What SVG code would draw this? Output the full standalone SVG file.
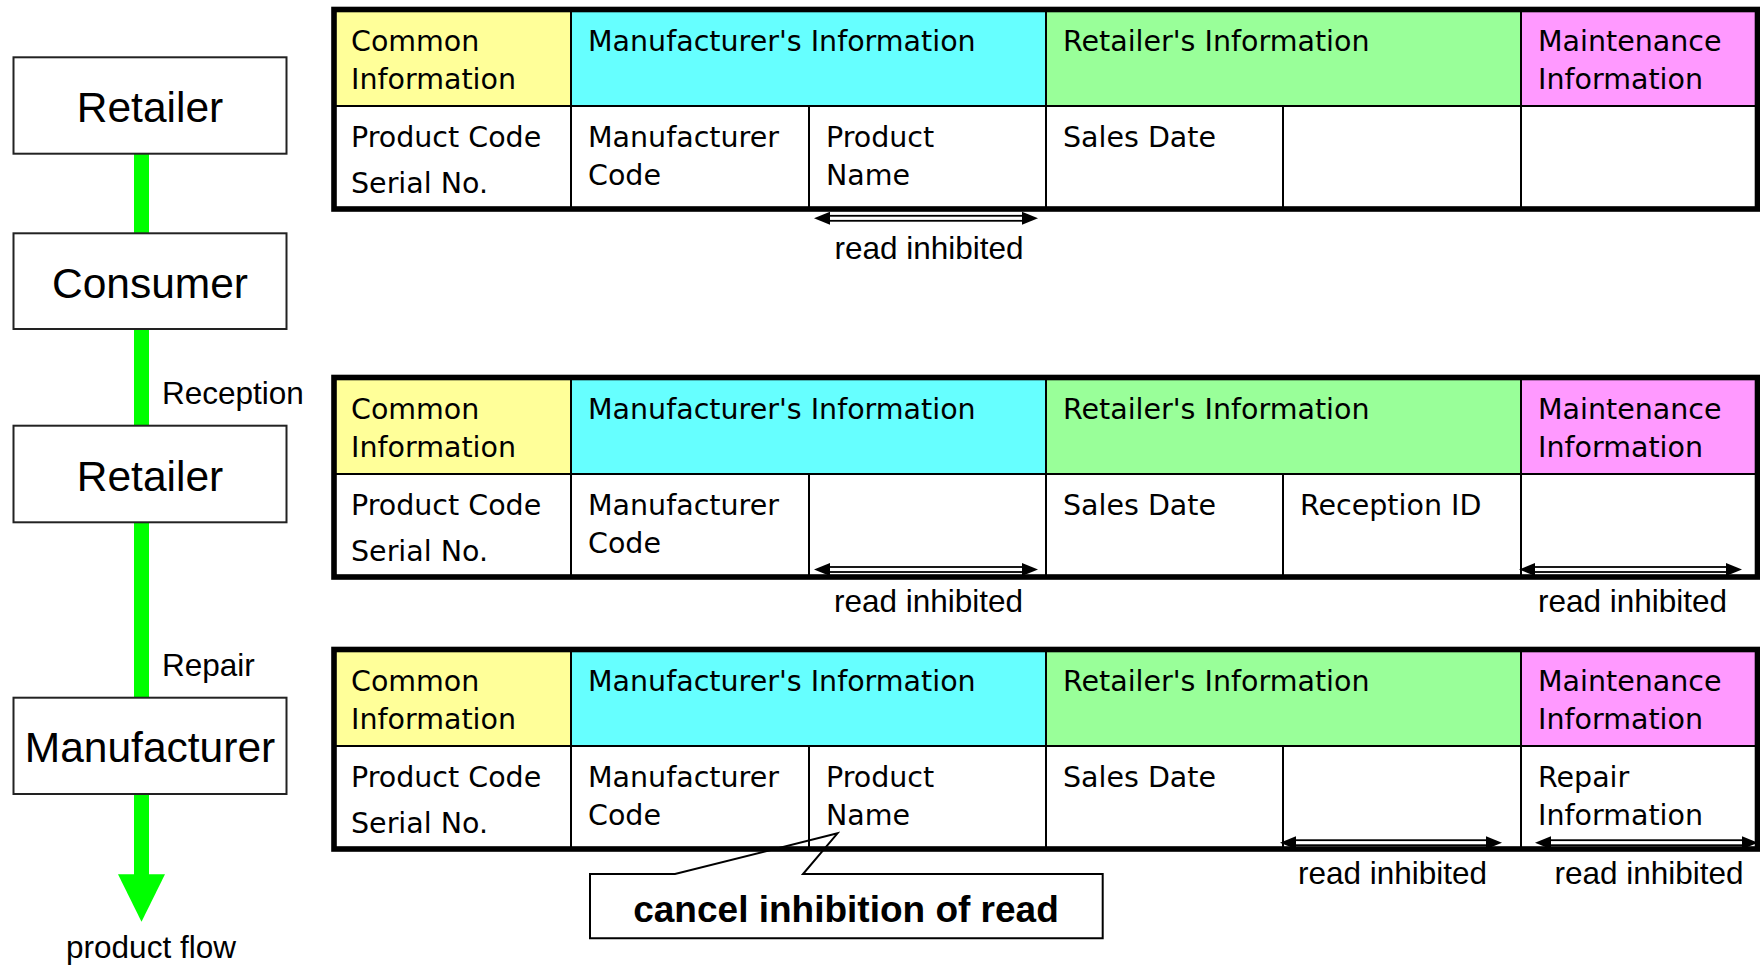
<svg xmlns="http://www.w3.org/2000/svg" width="1760" height="966" viewBox="0 0 1760 966">
<style>
.node rect{fill:#fff;stroke:#222;stroke-width:2}
.nt{font-family:"Liberation Sans",Arial,sans-serif;font-size:42.5px;text-anchor:middle;fill:#000}
.lbl{font-family:"Liberation Sans",Arial,sans-serif;font-size:31.5px;fill:#000}
.mid{text-anchor:middle}
.tt{font-family:"DejaVu Sans",Verdana,sans-serif;font-size:28.5px;fill:#000}
.thin{stroke:#000;stroke-width:2;fill:none}
.border{stroke:#000;stroke-width:5.6;fill:none}
.y{fill:#FFFF99}.c{fill:#66FFFF}.g{fill:#99FF99}.p{fill:#FF99FF}.w{fill:#fff}
.shaft{fill:#fff;stroke:#000;stroke-width:1.8}
.head{fill:#000}
.flow{stroke:#00FF00;stroke-width:15;fill:none}
.callout{fill:none;stroke:#000;stroke-width:2}
.ct{font-family:"Liberation Sans",Arial,sans-serif;font-size:37px;font-weight:bold;text-anchor:middle;fill:#000}
</style>

<g id="connectors">
<line class="flow" x1="141.5" y1="153.7" x2="141.5" y2="233.3"/>
<line class="flow" x1="141.5" y1="329" x2="141.5" y2="425.7"/>
<line class="flow" x1="141.5" y1="522.3" x2="141.5" y2="697.7"/>
<line class="flow" x1="141.5" y1="794" x2="141.5" y2="876"/>
<polygon points="118,874.3 165,874.3 141.5,921.7" fill="#00FF00"/>
<text class="lbl" x="162" y="403.5">Reception</text>
<text class="lbl" x="162" y="675.5">Repair</text>
<text class="lbl mid" x="151" y="957.5">product flow</text>
</g>

<g id="node-retailer-1" class="node">
<rect x="13.5" y="57.3" width="273" height="96.4"/>
<text class="nt" x="150" y="122.3">Retailer</text>
</g>
<g id="node-consumer" class="node">
<rect x="13.5" y="233.3" width="273" height="95.7"/>
<text class="nt" x="150" y="298.3">Consumer</text>
</g>
<g id="node-retailer-2" class="node">
<rect x="13.5" y="425.7" width="273" height="96.6"/>
<text class="nt" x="150" y="490.5">Retailer</text>
</g>
<g id="node-manufacturer" class="node">
<rect x="13.5" y="697.7" width="273" height="96.3"/>
<text class="nt" x="150" y="762">Manufacturer</text>
</g>

<g id="table-1">
<rect class="y" x="334" y="9.5" width="237" height="96.5"/>
<rect class="c" x="571" y="9.5" width="475" height="96.5"/>
<rect class="g" x="1046" y="9.5" width="475" height="96.5"/>
<rect class="p" x="1521" y="9.5" width="236.5" height="96.5"/>
<rect class="w" x="334" y="106" width="1423.5" height="103"/>
<path class="thin" d="M334,106H1757.5M571,9.5V209M1046,9.5V209M1521,9.5V209M809,106V209M1283,106V209"/>
<rect class="border" x="334" y="9.5" width="1423.5" height="199.5"/>
<text class="tt" x="351" y="50.7">Common</text>
<text class="tt" x="351" y="88.8">Information</text>
<text class="tt" x="588" y="50.7">Manufacturer's Information</text>
<text class="tt" x="1063" y="50.7">Retailer's Information</text>
<text class="tt" x="1538" y="50.7">Maintenance</text>
<text class="tt" x="1538" y="88.8">Information</text>
<text class="tt" x="351" y="146.7">Product Code</text>
<text class="tt" x="351" y="192.7">Serial No.</text>
<text class="tt" x="588" y="146.7">Manufacturer</text>
<text class="tt" x="588" y="184.5">Code</text>
<text class="tt" x="826" y="146.7">Product</text>
<text class="tt" x="826" y="184.5">Name</text>
<text class="tt" x="1063" y="146.7">Sales Date</text>
<rect class="shaft" x="826" y="215.8" width="200" height="5"/>
<polygon class="head" points="814,218.3 830,211.8 830,224.8"/>
<polygon class="head" points="1038,218.3 1022,211.8 1022,224.8"/>
<text class="lbl mid" x="929" y="258.5">read inhibited</text>
</g>

<g id="table-2">
<g transform="translate(0,368)">
<rect class="y" x="334" y="9.5" width="237" height="96.5"/>
<rect class="c" x="571" y="9.5" width="475" height="96.5"/>
<rect class="g" x="1046" y="9.5" width="475" height="96.5"/>
<rect class="p" x="1521" y="9.5" width="236.5" height="96.5"/>
<rect class="w" x="334" y="106" width="1423.5" height="103"/>
<path class="thin" d="M334,106H1757.5M571,9.5V209M1046,9.5V209M1521,9.5V209M809,106V209M1283,106V209"/>
<rect class="border" x="334" y="9.5" width="1423.5" height="199.5"/>
<text class="tt" x="351" y="50.7">Common</text>
<text class="tt" x="351" y="88.8">Information</text>
<text class="tt" x="588" y="50.7">Manufacturer's Information</text>
<text class="tt" x="1063" y="50.7">Retailer's Information</text>
<text class="tt" x="1538" y="50.7">Maintenance</text>
<text class="tt" x="1538" y="88.8">Information</text>
<text class="tt" x="351" y="146.7">Product Code</text>
<text class="tt" x="351" y="192.7">Serial No.</text>
<text class="tt" x="588" y="146.7">Manufacturer</text>
<text class="tt" x="588" y="184.5">Code</text>
<text class="tt" x="1063" y="146.7">Sales Date</text>
<text class="tt" x="1300" y="146.7">Reception ID</text>
</g>
<rect class="shaft" x="826" y="567" width="200" height="5"/>
<polygon class="head" points="814,569.5 830,563 830,576"/>
<polygon class="head" points="1038,569.5 1022,563 1022,576"/>
<rect class="shaft" x="1531" y="567" width="199" height="5"/>
<polygon class="head" points="1519,569.5 1535,563 1535,576"/>
<polygon class="head" points="1742,569.5 1726,563 1726,576"/>
<text class="lbl mid" x="928.5" y="612">read inhibited</text>
<text class="lbl mid" x="1632.5" y="612">read inhibited</text>
</g>

<g id="table-3">
<g transform="translate(0,640)">
<rect class="y" x="334" y="9.5" width="237" height="96.5"/>
<rect class="c" x="571" y="9.5" width="475" height="96.5"/>
<rect class="g" x="1046" y="9.5" width="475" height="96.5"/>
<rect class="p" x="1521" y="9.5" width="236.5" height="96.5"/>
<rect class="w" x="334" y="106" width="1423.5" height="103"/>
<path class="thin" d="M334,106H1757.5M571,9.5V209M1046,9.5V209M1521,9.5V209M809,106V209M1283,106V209"/>
<rect class="border" x="334" y="9.5" width="1423.5" height="199.5"/>
<text class="tt" x="351" y="50.7">Common</text>
<text class="tt" x="351" y="88.8">Information</text>
<text class="tt" x="588" y="50.7">Manufacturer's Information</text>
<text class="tt" x="1063" y="50.7">Retailer's Information</text>
<text class="tt" x="1538" y="50.7">Maintenance</text>
<text class="tt" x="1538" y="88.8">Information</text>
<text class="tt" x="351" y="146.7">Product Code</text>
<text class="tt" x="351" y="192.7">Serial No.</text>
<text class="tt" x="588" y="146.7">Manufacturer</text>
<text class="tt" x="588" y="184.5">Code</text>
<text class="tt" x="826" y="146.7">Product</text>
<text class="tt" x="826" y="184.5">Name</text>
<text class="tt" x="1063" y="146.7">Sales Date</text>
<text class="tt" x="1538" y="146.7">Repair</text>
<text class="tt" x="1538" y="184.5">Information</text>
</g>
<rect class="shaft" x="1292" y="840.2" width="198" height="5"/>
<polygon class="head" points="1280,842.7 1296,836.2 1296,849.2"/>
<polygon class="head" points="1502,842.7 1486,836.2 1486,849.2"/>
<rect class="shaft" x="1547" y="840.2" width="199" height="5"/>
<polygon class="head" points="1535,842.7 1551,836.2 1551,849.2"/>
<polygon class="head" points="1758,842.7 1742,836.2 1742,849.2"/>
<text class="lbl mid" x="1392.5" y="884">read inhibited</text>
<text class="lbl mid" x="1649" y="884">read inhibited</text>
</g>

<g id="callout">
<path class="callout" d="M590,874H675L837.5,833.3L803,874H1102.7V938.3H590Z"/>
<text class="ct" x="846" y="921.5">cancel inhibition of read</text>
</g>
</svg>
